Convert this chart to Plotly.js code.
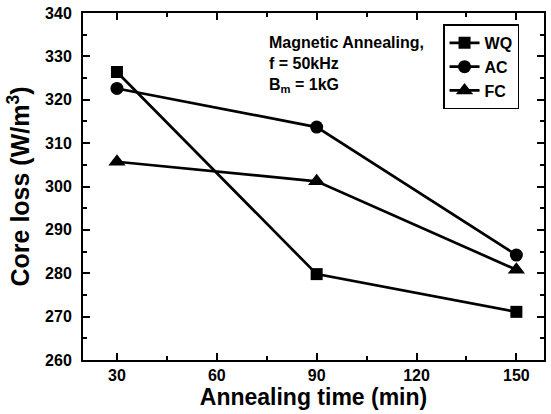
<!DOCTYPE html>
<html>
<head>
<meta charset="utf-8">
<script src="https://cdn.plot.ly/plotly-3.0.1.min.js"></script>
<style>body{margin:0;padding:0;background:#fff}#chart{width:551px;height:414px}</style>
</head>
<body>
<div id="chart"></div>
<script>
const annealTime = [30, 90, 150];
const wqLoss = [326.4, 279.8, 271.1];
const acLoss = [322.6, 313.7, 284.2];
const fcLoss = [305.7, 301.2, 280.8];
const seriesNames = ['WQ', 'AC', 'FC'];

const FONT = 'Arial, "Liberation Sans", Helvetica, sans-serif';

function trace(y, name, symbol, size) {
  return {
    x: annealTime, y: y, name: name, type: 'scatter', mode: 'lines+markers',
    line: {color: '#000', width: 2.7},
    marker: {symbol: symbol, size: size, color: '#000'}
  };
}

const data = [
  trace(wqLoss, seriesNames[0], 'square', 12),
  trace(acLoss, seriesNames[1], 'circle', 13),
  trace(fcLoss, seriesNames[2], 'triangle-up', 15)
];

const axisCommon = {
  showline: true, linecolor: '#000', linewidth: 2, mirror: 'allticks',
  ticks: 'inside', ticklen: 7, tickwidth: 2, tickcolor: '#000',
  showgrid: false, zeroline: false,
  tickfont: {family: FONT, size: 16, color: '#000', weight: 'bold'}
};

const layout = {
  width: 551, height: 414,
  margin: {l: 83, r: 7, t: 13, b: 54},
  paper_bgcolor: '#fff', plot_bgcolor: '#fff',
  font: {family: FONT, color: '#000'},
  xaxis: Object.assign({}, axisCommon, {
    range: [19.8, 158.3], tick0: 30, dtick: 30,
    minor: {dtick: 15, tick0: 30, ticks: 'inside', ticklen: 4, tickwidth: 2, tickcolor: '#000'},
    title: {text: 'Annealing time (min)', font: {family: FONT, size: 23, weight: 'bold', color: '#000'}, standoff: 2}
  }),
  yaxis: Object.assign({}, axisCommon, {
    range: [260, 340], tick0: 260, dtick: 10,
    ticklabelstandoff: 6,
    minor: {dtick: 5, tick0: 260, ticks: 'inside', ticklen: 4, tickwidth: 2, tickcolor: '#000'},
    title: {text: 'Core loss (W/m<sup>3</sup>)', font: {family: FONT, size: 25, weight: 'bold', color: '#000'}, standoff: 8}
  }),
  showlegend: true,
  legend: {
    x: 0.781, y: 0.967, xanchor: 'left', yanchor: 'top',
    bgcolor: '#fff', bordercolor: '#000', borderwidth: 1.5,
    font: {family: FONT, size: 16, weight: 'bold', color: '#000'},
    itemwidth: 30, tracegroupgap: 0
  },
  annotations: [
    {xref: 'paper', yref: 'paper', x: 0.4, y: 0.945, xanchor: 'left', yanchor: 'top', align: 'left', showarrow: false,
     text: 'Magnetic Annealing,<br>f = 50kHz<br>B<sub>m</sub> = 1kG',
     font: {family: FONT, size: 16, weight: 'bold', color: '#000'}}
  ]
};

Plotly.newPlot('chart', data, layout, {displayModeBar: false, staticPlot: true});
</script>
</body>
</html>
